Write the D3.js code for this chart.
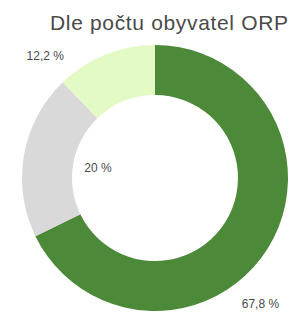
<!DOCTYPE html>
<html>
<head>
<meta charset="utf-8">
<script src="https://cdn.jsdelivr.net/npm/d3@7"></script>
<style>
  html, body { margin: 0; padding: 0; background: #fff; }
  svg { display: block; }
</style>
</head>
<body>
<div id="chart"></div>
<script>
// data
var categories = ["velké", "střední", "malé"];
var values = [67.8, 20, 12.2];
var valueLabels = ["67,8 %", "20 %", "12,2 %"];
var colors = ["#4c8a39", "#d9d9d9", "#e3fac4"];

var width = 293,
    height = 317,
    cx = 155,
    cy = 178,
    outerR = 133,
    innerR = 83;

var svg = d3.select("#chart").append("svg")
    .attr("width", width)
    .attr("height", height);

svg.append("text")
    .attr("x", 50)
    .attr("y", 30)
    .attr("font-family", "Liberation Sans, Arial, sans-serif")
    .attr("font-size", 21)
    .attr("fill", "#4a4a4a")
    .attr("textLength", 238)
    .text("Dle počtu obyvatel ORP");

var pie = d3.pie().sort(null).value(function(d) { return d; });
var arc = d3.arc().innerRadius(innerR).outerRadius(outerR);

var g = svg.append("g")
    .attr("transform", "translate(" + cx + "," + cy + ")");

var arcs = pie(values);

g.selectAll("path")
    .data(arcs)
  .enter().append("path")
    .attr("d", arc)
    .attr("fill", function(d, i) { return colors[i]; });

// label placement: angle (deg from top) and distance from centre, per slice
var labelSpot = [[140, 164], [280, 58], [-42, 164]];

g.selectAll("text.lbl")
    .data(arcs)
  .enter().append("text")
    .attr("class", "lbl")
    .attr("x", function(d, i) { return Math.sin(labelSpot[i][0] * Math.PI / 180) * labelSpot[i][1]; })
    .attr("y", function(d, i) { return -Math.cos(labelSpot[i][0] * Math.PI / 180) * labelSpot[i][1]; })
    .attr("dy", "0.35em")
    .attr("text-anchor", "middle")
    .attr("font-family", "Liberation Sans, Arial, sans-serif")
    .attr("font-size", 12)
    .attr("fill", "#4a4a4a")
    .text(function(d, i) { return valueLabels[i]; });
</script>
</body>
</html>
